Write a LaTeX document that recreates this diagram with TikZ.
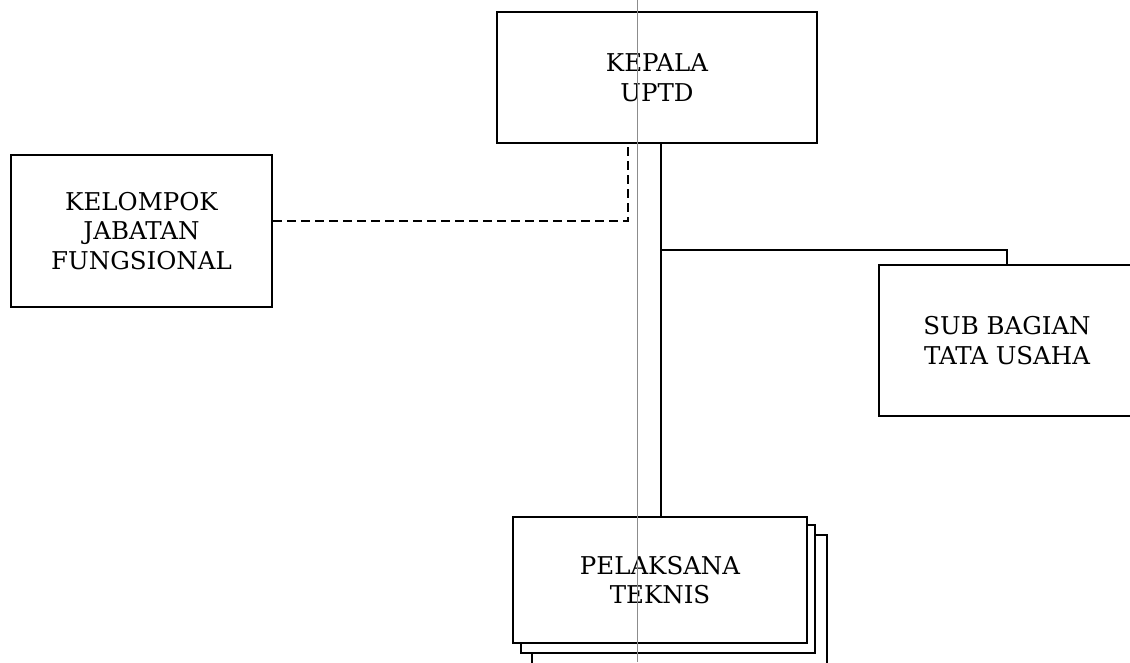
\documentclass[tikz,border=0pt]{standalone}
\usepackage{fontspec}
\setmainfont{DejaVu Serif}
\usetikzlibrary{calc}
\begin{document}
\begin{tikzpicture}[x=1pt,y=-1pt,
  orgbox/.style={draw=black,line width=2.6pt,fill=white,rectangle,inner sep=0pt,
    align=center,font=\fontsize{24.5}{29.5}\selectfont},
  backbox/.style={draw=black,line width=2.4pt,fill=white},
  link/.style={draw=black,line width=2.3pt},
  dashlink/.style={draw=black,line width=2.6pt,dash pattern=on 9pt off 5pt},
  scanline/.style={draw=black!45,line width=0.9pt}]
\useasboundingbox (0,0) rectangle (1130,662);
\clip (0,0) rectangle (1130,662);
% stacked back sheets of PELAKSANA TEKNIS
\draw[backbox] (532,535) rectangle (827,668);
\draw[backbox] (521,525) rectangle (815,653);
% boxes
\node[orgbox,minimum width=320pt,minimum height=131pt] (kepala) at (657,77.5) {KEPALA\\UPTD};
\node[orgbox,minimum width=261pt,minimum height=152pt] (kelompok) at (141.5,231) {KELOMPOK\\JABATAN\\FUNGSIONAL};
\node[orgbox,minimum width=256pt,minimum height=151pt] (sub) at (1007,340.5) {SUB BAGIAN\\TATA USAHA};
\node[orgbox,minimum width=294pt,minimum height=126pt] (pel) at (660,580) {PELAKSANA\\TEKNIS};
% connectors
\coordinate (br) at (661,250);
\coordinate (dj) at (628,221);
\draw[link] (br |- kepala.south) -- (br |- pel.north);
\draw[link] (br) -| (sub.north);
\draw[dashlink] (kelompok.east |- dj) -- (dj) -- (dj |- kepala.south);
% thin scan line
\coordinate (st) at (637,0);
\coordinate (sb) at (637,662);
\draw[scanline] (st) -- (sb);
\end{tikzpicture}
\end{document}
